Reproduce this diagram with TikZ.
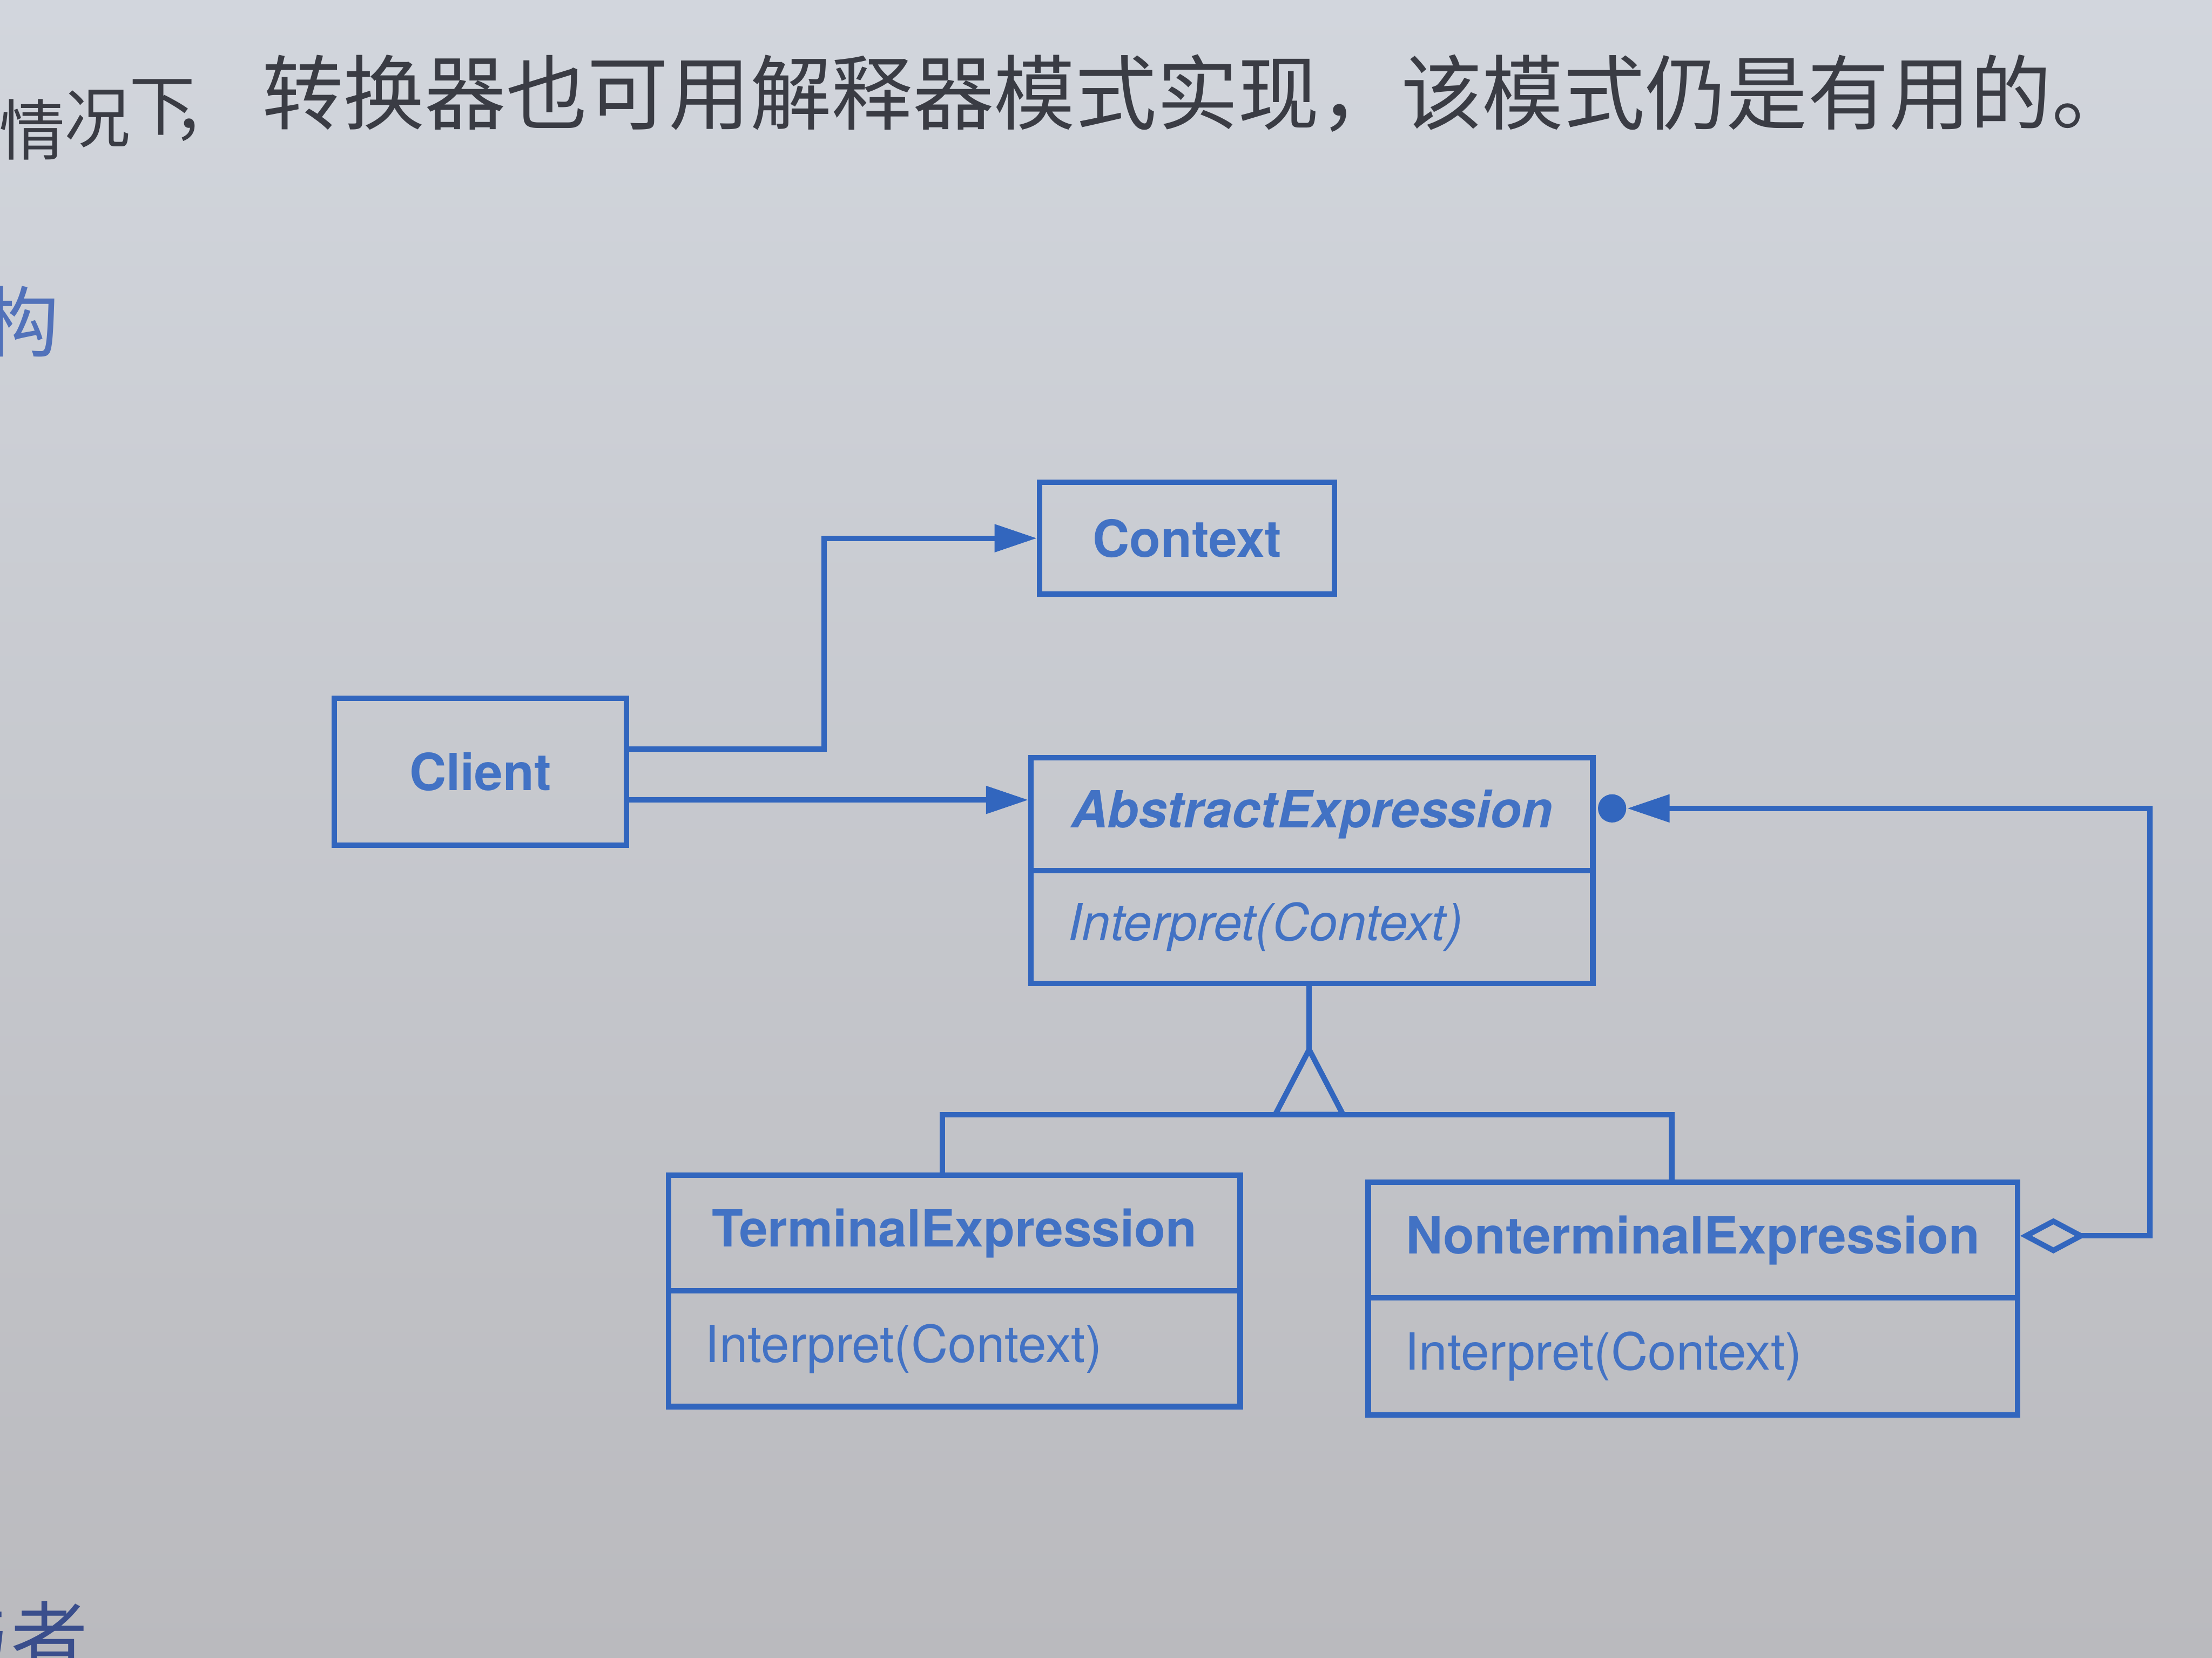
\documentclass[tikz,border=0pt]{standalone}
\usepackage{fontspec}
\setmainfont{TeX Gyre Heros}
\newfontfamily\cjk{Noto Sans CJK SC}
\usetikzlibrary{arrows.meta,calc}
\definecolor{umlblue}{RGB}{50,102,190}
\definecolor{txtblue}{RGB}{66,114,196}
\definecolor{paperA}{RGB}{210,214,221}
\definecolor{paperB}{RGB}{186,186,190}
\definecolor{inkgray}{RGB}{58,60,68}
\definecolor{headblue}{RGB}{82,114,186}
\definecolor{headdark}{RGB}{58,78,140}
\begin{document}
\begin{tikzpicture}[x=0.01cm,y=-0.01cm,
  box/.style={draw=umlblue, line width=1.1pt, rectangle, inner sep=0pt, text=txtblue,
    font=\fontsize{10.3}{12}\selectfont\bfseries},
  opbox/.style={draw=umlblue, line width=1.1pt, rectangle, inner ysep=0pt, inner xsep=0.26cm,
    align=left, text=txtblue, font=\fontsize{10.3}{12}\selectfont},
  conn/.style={draw=umlblue, line width=1.1pt},
  tip/.style={-{Triangle[length=0.3cm,width=0.19cm]}},
  cjktext/.style={inner sep=0pt, text=inkgray},
  curlchar/.style={inner sep=0pt, text=inkgray, font=\cjk\fontsize{13.3}{14}\selectfont}
]
\fill[top color=paperA, bottom color=paperB] (0,0) rectangle (1568,1175);
\useasboundingbox (0,0) rectangle (1568,1175);

% page text (line bends down near the spine)
\node[curlchar] (c1) at (-23,100) {种};
\node[curlchar] (c2) at (23,92) {情};
\node[curlchar] (c3) at (69,84) {况};
\node[curlchar] (c4) at (115,76) {下};
\node[curlchar] (c5) at (146,92) {，};
\node[cjktext, anchor=west, font=\cjk\fontsize{16.4}{17}\selectfont] (t2) at (185,66) {转换器也可用解释器模式实现，该模式仍是有用的。};
\node[inner sep=0pt, text=headblue, font=\cjk\fontsize{15.5}{16}\selectfont] (h1) at (15,228) {构};
\node[inner sep=0pt, text=headdark, font=\cjk\fontsize{15.5}{16}\selectfont] (h2) at (8,1160) {与者};

% classes
\node[box, minimum width=2.09cm, minimum height=0.79cm] (ctx) at (841.5,381.5) {Context};
\node[box, minimum width=2.07cm, minimum height=1.04cm] (cl) at (340.5,547) {Client};
\node[box, minimum width=3.98cm, minimum height=0.80cm,
  font=\fontsize{10.3}{12}\selectfont\bfseries\itshape] (aeT) at (930,577) {AbstractExpression};
\node[opbox, text width=3.46cm, minimum height=0.80cm,
  font=\fontsize{10.3}{12}\selectfont\itshape] (aeO) at (930,657) {Interpret(Context)};
\node[box, minimum width=4.05cm, minimum height=0.82cm] (teT) at (676.5,874) {TerminalExpression};
\node[opbox, text width=3.53cm, minimum height=0.82cm] (teO) at (676.5,956) {Interpret(Context)};
\node[box, minimum width=4.60cm, minimum height=0.82cm] (ntT) at (1200,879) {NonterminalExpression};
\node[opbox, text width=4.08cm, minimum height=0.83cm] (ntO) at (1200,961.5) {Interpret(Context)};

% Client associations
\coordinate (cc1) at (584,531);
\draw[conn,tip] (cl.east |- cc1) -- (cc1) |- (ctx.west);
\coordinate (cc2) at (0,567);
\draw[conn,tip] (cl.east |- cc2) -- (aeT.west |- cc2);

% inheritance
\coordinate (apex) at (928,744);
\coordinate (barL) at (668,790);
\coordinate (barR) at (1185,790);
\draw[conn] (aeO.south -| apex) -- (apex);
\draw[conn, line join=miter] (apex) -- (904,790) -- (952,790) -- cycle;
\draw[conn] (barL |- teT.north) -- (barL) -- (barR) -- (barR |- ntT.north);

% aggregation
\node[circle, fill=umlblue, minimum size=0.2cm, inner sep=0pt, anchor=west] (dot) at ($(aeT.east)+(1,-4)$) {};
\coordinate (agg) at (1524,573);
\coordinate (ag0) at (0,876);
\draw[conn, {Diamond[open,length=0.47cm,width=0.25cm]}-{Triangle[length=0.3cm,width=0.19cm]}]
  (ntT.east |- ag0) -- (agg |- ag0) -- (agg) -- (dot.east);
\end{tikzpicture}
\end{document}
